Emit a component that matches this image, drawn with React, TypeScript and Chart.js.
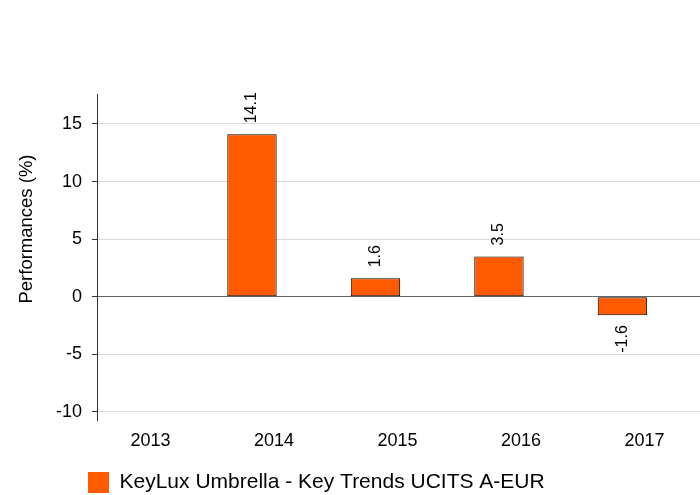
import React, { useEffect, useRef } from 'react';
import { Chart, registerables } from 'chart.js';

Chart.register(...registerables);

const years: string[] = ['2013', '2014', '2015', '2016', '2017'];
const performances: (number | null)[] = [null, 14.1, 1.6, 3.5, -1.6];
const yTickValues: number[] = [-10, -5, 0, 5, 10, 15];
const seriesName = 'KeyLux Umbrella - Key Trends UCITS A-EUR';
const yAxisTitle = 'Performances (%)';

const FONT = "'Liberation Sans', Arial, Helvetica, sans-serif";
const BAR_COLOR = '#ff5a00';

const valueLabelsPlugin = {
  id: 'valueLabels',
  afterDatasetsDraw(chart: any) {
    const meta = chart.getDatasetMeta(0);
    const ctx = chart.ctx;
    meta.data.forEach((bar: any, i: number) => {
      const v = performances[i];
      if (v === null || v === undefined) return;
      const { x, y } = bar.getProps(['x', 'y'], true);
      ctx.save();
      ctx.font = `16px ${FONT}`;
      ctx.fillStyle = '#000';
      ctx.textBaseline = 'middle';
      if (v >= 0) {
        ctx.translate(x, y - 11);
        ctx.rotate(-Math.PI / 2);
        ctx.textAlign = 'left';
      } else {
        ctx.translate(x, y + 10);
        ctx.rotate(-Math.PI / 2);
        ctx.textAlign = 'right';
      }
      ctx.fillText(v.toFixed(1), 0, 0);
      ctx.restore();
    });
  },
};

const yTitlePlugin = {
  id: 'yTitle',
  afterDraw(chart: any) {
    const ctx = chart.ctx;
    ctx.save();
    ctx.translate(27, 229);
    ctx.rotate(-Math.PI / 2);
    ctx.font = `18.5px ${FONT}`;
    ctx.fillStyle = '#000';
    ctx.textAlign = 'center';
    ctx.textBaseline = 'middle';
    ctx.fillText(yAxisTitle, 0, 0);
    ctx.restore();
  },
};

const legendPlacePlugin = {
  id: 'legendPlace',
  afterLayout(chart: any) {
    const lg = chart.legend;
    if (!lg) return;
    lg.left = 78;
    lg.top += 8;
    lg.bottom += 8;
  },
};

export default function App() {
  const canvasRef = useRef<HTMLCanvasElement | null>(null);

  useEffect(() => {
    if (!canvasRef.current) return;
    Chart.defaults.font.family = FONT;
    Chart.defaults.color = '#000';
    const chart = new Chart(canvasRef.current, {
      type: 'bar',
      data: {
        datasets: [
          {
            label: seriesName,
            data: performances.map((y, i) => ({ x: i, y })) as any,
            backgroundColor: BAR_COLOR,
            borderColor: '#000',
            borderWidth: 1,
            borderSkipped: false,
            categoryPercentage: 0.8,
            barPercentage: 0.5,
          },
        ],
      },
      options: {
        responsive: false,
        animation: false,
        layout: { padding: { top: 94, left: 0, right: 0, bottom: 0 } },
        scales: {
          x: {
            type: 'linear',
            offset: false,
            min: -0.255,
            max: 4.628,
            grid: { display: false, drawTicks: false, tickLength: 0, offset: false },
            border: { display: false },
            afterBuildTicks: (scale: any) => {
              scale.ticks = years.map((_, i) => ({ value: i }));
            },
            afterFit: (scale: any) => {
              scale.height = 34;
            },
            ticks: {
              autoSkip: false,
              maxRotation: 0,
              labelOffset: 22,
              padding: 10,
              color: '#000',
              font: { size: 18, family: FONT },
              callback: (value: any) => years[value as number] ?? '',
            },
          },
          y: {
            type: 'linear',
            min: -10.7,
            max: 17.6,
            afterBuildTicks: (scale: any) => {
              scale.ticks = yTickValues.map((value) => ({ value }));
            },
            afterFit: (scale: any) => {
              scale.width = 97;
            },
            grid: {
              color: (c: any) => (c.tick && c.tick.value === 0 ? '#666' : '#d9d9d9'),
              tickColor: '#333',
              tickLength: 5,
            },
            border: { display: true, color: '#333', width: 1 },
            ticks: {
              padding: 10,
              color: '#000',
              font: { size: 18, family: FONT },
              callback: (value: any) => String(value),
            },
          },
        },
        plugins: {
          title: { display: false },
          tooltip: { enabled: false },
          legend: {
            display: true,
            position: 'bottom',
            align: 'start',
            labels: {
              boxWidth: 21,
              boxHeight: 21,
              padding: 10,
              color: '#000',
              font: { size: 21, family: FONT },
              generateLabels: (ch: any) =>
                (Chart.defaults.plugins.legend.labels.generateLabels as any)(ch).map((l: any) => ({
                  ...l,
                  lineWidth: 0,
                  strokeStyle: 'rgba(0,0,0,0)',
                })),
            },
          },
        },
      },
      plugins: [valueLabelsPlugin, yTitlePlugin, legendPlacePlugin],
    } as any);
    return () => chart.destroy();
  }, []);

  return (
    <div style={{ position: 'absolute', left: 0, top: 0, width: 700, height: 495, background: '#fff' }}>
      <canvas ref={canvasRef} width={700} height={495} style={{ display: 'block' }} />
    </div>
  );
}
